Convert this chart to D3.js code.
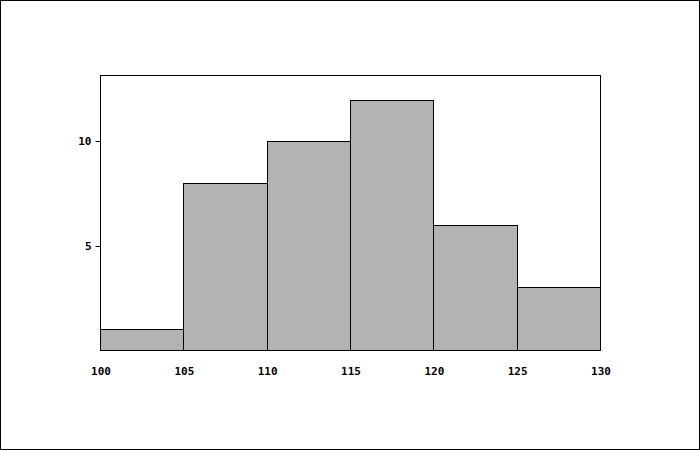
<!DOCTYPE html>
<html><head><meta charset="utf-8">
<script src="https://cdn.jsdelivr.net/npm/d3@7"></script>
<style>body{margin:0;background:#fff}svg{display:block}</style>
</head><body>
<script>
const binStarts = [100, 105, 110, 115, 120, 125];
const binWidth = 5;
const counts = [1, 8, 10, 12, 6, 3];
const xTicks = [100, 105, 110, 115, 120, 125, 130];
const yTicks = [5, 10];

const W = 700, H = 450;
const svg = d3.select("body").append("svg").attr("width", W).attr("height", H);
svg.append("rect").attr("x", 0.5).attr("y", 0.5).attr("width", W - 1).attr("height", H - 1)
  .attr("fill", "#fff").attr("stroke", "#000");

const x = d3.scaleLinear().domain([100, 130]).range([100, 600]);
const y = d3.scaleLinear().domain([0, 13.18]).range([350, 75]);

svg.append("rect").attr("x", 100.5).attr("y", 75.5).attr("width", 500).attr("height", 275)
  .attr("fill", "none").attr("stroke", "#000");

svg.selectAll("rect.bar").data(counts).enter().append("rect").attr("class", "bar")
  .attr("x", (d, i) => Math.round(x(binStarts[i])) + 0.5)
  .attr("width", (d, i) => Math.round(x(binStarts[i] + binWidth)) - Math.round(x(binStarts[i])))
  .attr("y", d => Math.round(y(d)) + 0.5)
  .attr("height", d => 350 - Math.round(y(d)))
  .attr("fill", "#b3b3b3").attr("stroke", "#000");

const font = "'DejaVu Sans Mono', monospace";
const yAxis = d3.axisLeft(y).tickValues(yTicks).tickSize(5).tickPadding(4);
const gy = svg.append("g").attr("transform", "translate(100.5,0.5)").call(yAxis);
gy.select(".domain").remove();
gy.selectAll(".tick").attr("transform", d => "translate(0," + Math.round(y(d)) + ")");
gy.selectAll("text").attr("font-family", font).attr("font-weight", "bold").attr("font-size", 11).attr("fill", "#000");

const xAxis = d3.axisBottom(x).tickValues(xTicks).tickSize(0).tickPadding(17);
const gx = svg.append("g").attr("transform", "translate(0.5,350.5)").call(xAxis);
gx.select(".domain").remove();
gx.selectAll("line").remove();
gx.selectAll("text").attr("font-family", font).attr("font-weight", "bold").attr("font-size", 11).attr("fill", "#000");
</script>
</body></html>
